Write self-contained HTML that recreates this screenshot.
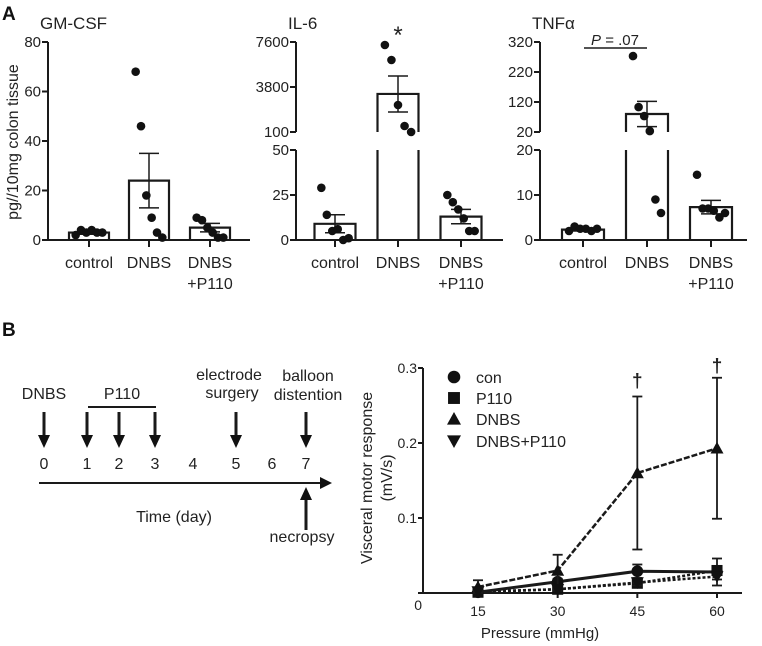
<!DOCTYPE html>
<html><head><meta charset="utf-8">
<style>
body{margin:0;background:#fff;}
svg{display:block;font-family:"Liberation Sans",Arial,sans-serif;}
</style></head>
<body>
<svg id="fig" width="762" height="646" viewBox="0 0 762 646">
<g id="root"></g>
</svg>
<script>
// ---- Panel A data ----
const groups = ["control","DNBS","DNBS\n+P110"];
const gmPoints = [[2,4,3,4,3,3],[68,46,18,9,3,1],[9,8,5,3,1,1]];
const gmMean = [3,24,5];
const gmSem = [0.7,11,1.7];
const il6Points = [[29,14,5,6,0,1],[7350,6100,2350,600,100],[25,21,17,12,5,5]];
const il6Mean = [9,3270,13];
const il6Sem = [5,1500,4];
const tnfPoints = [[2,3,2.5,2.5,2,2.5],[273,103,73,23,9,6],[14.5,7,7,6.5,5,6]];
const tnfMean = [2.3,80,7.3];
const tnfSem = [0.3,42,1.5];
// ---- Panel B data ----
const pressures = [15,30,45,60];
const conVals = [0.001,0.015,0.029,0.028];
const conErr = [0.002,0.004,0.009,0.018];
const p110Vals = [0.001,0.005,0.013,0.03];
const p110Err = [0.001,0.002,0.004,0.006];
const dnbsVals = [0.008,0.03,0.16,0.193];
const dnbsErr = [0.009,0.021,0.102,0.094];
const dpVals = [0.002,0.005,0.014,0.022];
const dpErr = [0.001,0.002,0.004,0.004];
const vmrTicks = [0,0.1,0.2,0.3];

const NS="http://www.w3.org/2000/svg";
const root=document.getElementById('root');
function el(tag,attrs,parent){const e=document.createElementNS(NS,tag);for(const k in attrs)e.setAttribute(k,attrs[k]);(parent||root).appendChild(e);return e;}
function txt(x,y,s,size,anchor,parent,extra){const t=el('text',Object.assign({x:x,y:y,'font-size':size,'text-anchor':anchor||'start',fill:'#222'},extra||{}),parent);t.textContent=s;return t;}
function line(x1,y1,x2,y2,w,parent,extra){return el('line',Object.assign({x1:x1,y1:y1,x2:x2,y2:y2,stroke:'#1a1a1a','stroke-width':w||2},extra||{}),parent);}

let t=txt(2,20,"A",19,'start',root,{'font-weight':'bold',fill:'#111'});

t=txt(2,336,"B",19,'start',root,{'font-weight':'bold',fill:'#111'});

t=txt(0,0,"pg//10mg colon tissue",16,'middle',root,{transform:'translate(18,142) rotate(-90)'});


function barPanel(name,cfg){
  const g=el('g',{});
  
  
  function yOf(v){for(const s of cfg.segs){if(v>=s.v0&&v<=s.v1)return s.y0-(v-s.v0)/(s.v1-s.v0)*(s.y0-s.y1);}const s=cfg.segs[cfg.segs.length-1];return v>s.v1?s.y1:cfg.segs[0].y0;}
  const tt=txt(cfg.ax-8,29,cfg.title,17,'start',g);
  
  cfg.segs.forEach(s=>{line(cfg.ax,s.y0,cfg.ax,s.y1,2,g);});
  cfg.ticks.forEach(tk=>{const yy=tk.y!==undefined?tk.y:yOf(tk.v);line(cfg.ax-6,yy,cfg.ax,yy,2,g);const l=txt(cfg.ax-7,yy+5,tk.label,15,'end',g);});
  line(cfg.ax-5,240,cfg.ax+cfg.w,240,2,g);
  groups.forEach((gname,i)=>{
    const cx=cfg.xs[i];
    line(cx,240,cx,247,2,g);
    gname.split("\n").forEach((p,j)=>{const l=txt(cx,268+j*21,p,16,'middle',g);});
    const m=cfg.mean[i],yt=yOf(m),bw=cfg.bw;
    const bar=el('path',{d:cfg.breakBar&&m>cfg.segs[0].v1?
      `M${cx-bw/2},240 V${cfg.segs[0].y1} M${cx+bw/2},240 V${cfg.segs[0].y1} M${cx-bw/2},${cfg.segs[1].y0} V${yt} H${cx+bw/2} V${cfg.segs[1].y0}`:
      `M${cx-bw/2},240 V${yt} H${cx+bw/2} V240`,fill:'none',stroke:'#1a1a1a','stroke-width':2.2},g);
    
    const s=cfg.sem[i],ya=yOf(m+s),yb=yOf(Math.max(0,m-s));
    line(cx,ya,cx,yb,1.5,g);line(cx-10,ya,cx+10,ya,1.5,g);line(cx-10,yb,cx+10,yb,1.5,g);
    const pts=cfg.pts[i],n=pts.length;
    pts.forEach((v,j)=>{const off=(j-(n-1)/2)*(bw*0.8/n);const c=el('circle',{cx:cx+off,cy:yOf(v),r:4.3,fill:'#111'},g);});
  });
  return {g,yOf};
}

barPanel('gm-csf',{title:"GM-CSF",ax:48,w:202,xs:[89,149,210],bw:40,
  segs:[{v0:0,v1:80,y0:240,y1:42}],
  ticks:[{v:0,label:"0"},{v:20,label:"20"},{v:40,label:"40"},{v:60,label:"60"},{v:80,label:"80"}],
  pts:gmPoints,mean:gmMean,sem:gmSem});
barPanel('il-6',{title:"IL-6",ax:296,w:207,xs:[335,398,461],bw:41,breakBar:true,
  segs:[{v0:0,v1:50,y0:240,y1:150},{v0:100,v1:7600,y0:132,y1:42}],
  ticks:[{v:0,label:"0"},{v:25,label:"25"},{v:50,label:"50"},{v:100,label:"100"},{v:3800,label:"3800",y:87},{v:7600,label:"7600"}],
  pts:il6Points,mean:il6Mean,sem:il6Sem});
t=txt(398,43,"*",24,'middle');
barPanel('tnf-alpha',{title:"TNFα",ax:540,w:207,xs:[583,647,711],bw:42,breakBar:true,
  segs:[{v0:0,v1:20,y0:240,y1:150},{v0:20,v1:320,y0:132,y1:42}],
  ticks:[{v:0,label:"0"},{v:10,label:"10"},{v:20,label:"20",y:150},{v:20,label:"20",y:132},{v:120,label:"120",y:102},{v:220,label:"220",y:72},{v:320,label:"320"}],
  pts:tnfPoints,mean:tnfMean,sem:tnfSem});
line(584,48,647,48,1.5);
t=el('text',{x:615,y:45,'font-size':15,'text-anchor':'middle',fill:'#222'});
t.innerHTML='<tspan font-style="italic">P</tspan> = .07';


// ---- Timeline ----
const tl=el('g',{});


const dayX=[44,87,119,155,193,236,272,306];
line(39,483,322,483,2,tl);
el('path',{d:'M320,477 L332,483 L320,489 Z',fill:'#111'},tl);
dayX.forEach((x,i)=>{const l=txt(x,469,String(i),16,'middle',tl);});
function downArrow(x){line(x,412,x,437,3,tl);el('path',{d:`M${x-6},435 L${x+6},435 L${x},448 Z`,fill:'#111'},tl);}
[0,1,2,3,5,7].forEach(i=>downArrow(dayX[i]));
line(306,530,306,498,3,tl);el('path',{d:'M300,500 L312,500 L306,487 Z',fill:'#111'},tl);
line(88,407,156,407,2,tl);
txt(44,399,"DNBS",16,'middle',tl);
txt(122,399,"P110",16,'middle',tl);
txt(229,380,"electrode",16,'middle',tl);
txt(232,398,"surgery",16,'middle',tl);
txt(308,381,"balloon",16,'middle',tl);
txt(308,400,"distention",16,'middle',tl);
txt(174,522,"Time (day)",16,'middle',tl);
txt(302,542,"necropsy",16,'middle',tl);

// ---- Line chart ----
const lc=el('g',{});


const X0=423,Y0=593,YT=368,PX0=15,PX1=60,XL=478,XR=717;
function xp(p){return XL+(p-PX0)/(PX1-PX0)*(XR-XL);}
function yp(v){return Y0-v/0.3*(Y0-YT);}
line(X0,YT,X0,Y0,2,lc);line(X0,Y0,742,Y0,2,lc);
vmrTicks.forEach(v=>{line(X0-5,yp(v),X0,yp(v),2,lc);if(v>0){const l=txt(X0-6,yp(v)+5,String(v),14,'end',lc);}});
txt(X0-1,610,"0",14,'end',lc);
pressures.forEach(p=>{line(xp(p),Y0,xp(p),Y0+5,2,lc);const l=txt(xp(p),616,String(p),14,'middle',lc);});
t=txt(540,638,"Pressure (mmHg)",15,'middle',lc);
t=txt(0,0,"Visceral motor response",16,'middle',lc,{transform:'translate(372,478) rotate(-90)'});
t=txt(0,0,"(mV/s)",16,'middle',lc,{transform:'translate(392,478) rotate(-90)'});
function marker(kind,x,y,s,parent){
  if(kind==='circle')return el('circle',{cx:x,cy:y,r:s*0.9,fill:'#111'},parent);
  if(kind==='square')return el('rect',{x:x-s*0.85,y:y-s*0.85,width:s*1.7,height:s*1.7,fill:'#111'},parent);
  if(kind==='up')return el('path',{d:`M${x},${y-s} L${x+s},${y+s*0.8} L${x-s},${y+s*0.8} Z`,fill:'#111'},parent);
  return el('path',{d:`M${x},${y+s} L${x+s},${y-s*0.8} L${x-s},${y-s*0.8} Z`,fill:'#111'},parent);
}
const series=[
  {name:'con',vals:conVals,err:conErr,kind:'circle',dash:'none',w:3},
  {name:'p110',vals:p110Vals,err:p110Err,kind:'square',dash:'3,2',w:2.5},
  {name:'dnbs',vals:dnbsVals,err:dnbsErr,kind:'up',dash:'6,2',w:2.5},
  {name:'dnbs-p110',vals:dpVals,err:dpErr,kind:'down',dash:'3,2',w:2.5}];
series.forEach(s=>{
  const g=el('g',{},lc);
  
  
  s.vals.forEach((v,i)=>{const x=xp(pressures[i]);const ya=yp(v+s.err[i]),yb=yp(Math.max(0,v-s.err[i]));
    line(x,ya,x,yb,1.8,g);line(x-5,ya,x+5,ya,1.8,g);line(x-5,yb,x+5,yb,1.8,g);});
  el('polyline',{points:s.vals.map((v,i)=>xp(pressures[i])+','+yp(v)).join(' '),fill:'none',stroke:'#1a1a1a','stroke-width':s.w,'stroke-dasharray':s.dash},g);
  s.vals.forEach((v,i)=>{const m=marker(s.kind,xp(pressures[i]),yp(v),6.5,g);});
});
t=txt(xp(45),387,"†",19,'middle',lc,{'font-weight':'bold'});
t=txt(xp(60),372,"†",19,'middle',lc,{'font-weight':'bold'});
const legend=[['circle','con',377],['square','P110',398],['up','DNBS',419],['down','DNBS+P110',441]];
legend.forEach(L=>{const g=el('g',{},lc);
  
  
  marker(L[0],454,L[2],7,g);txt(476,L[2]+6,L[1],16,'start',g);});
</script>
</body></html>
